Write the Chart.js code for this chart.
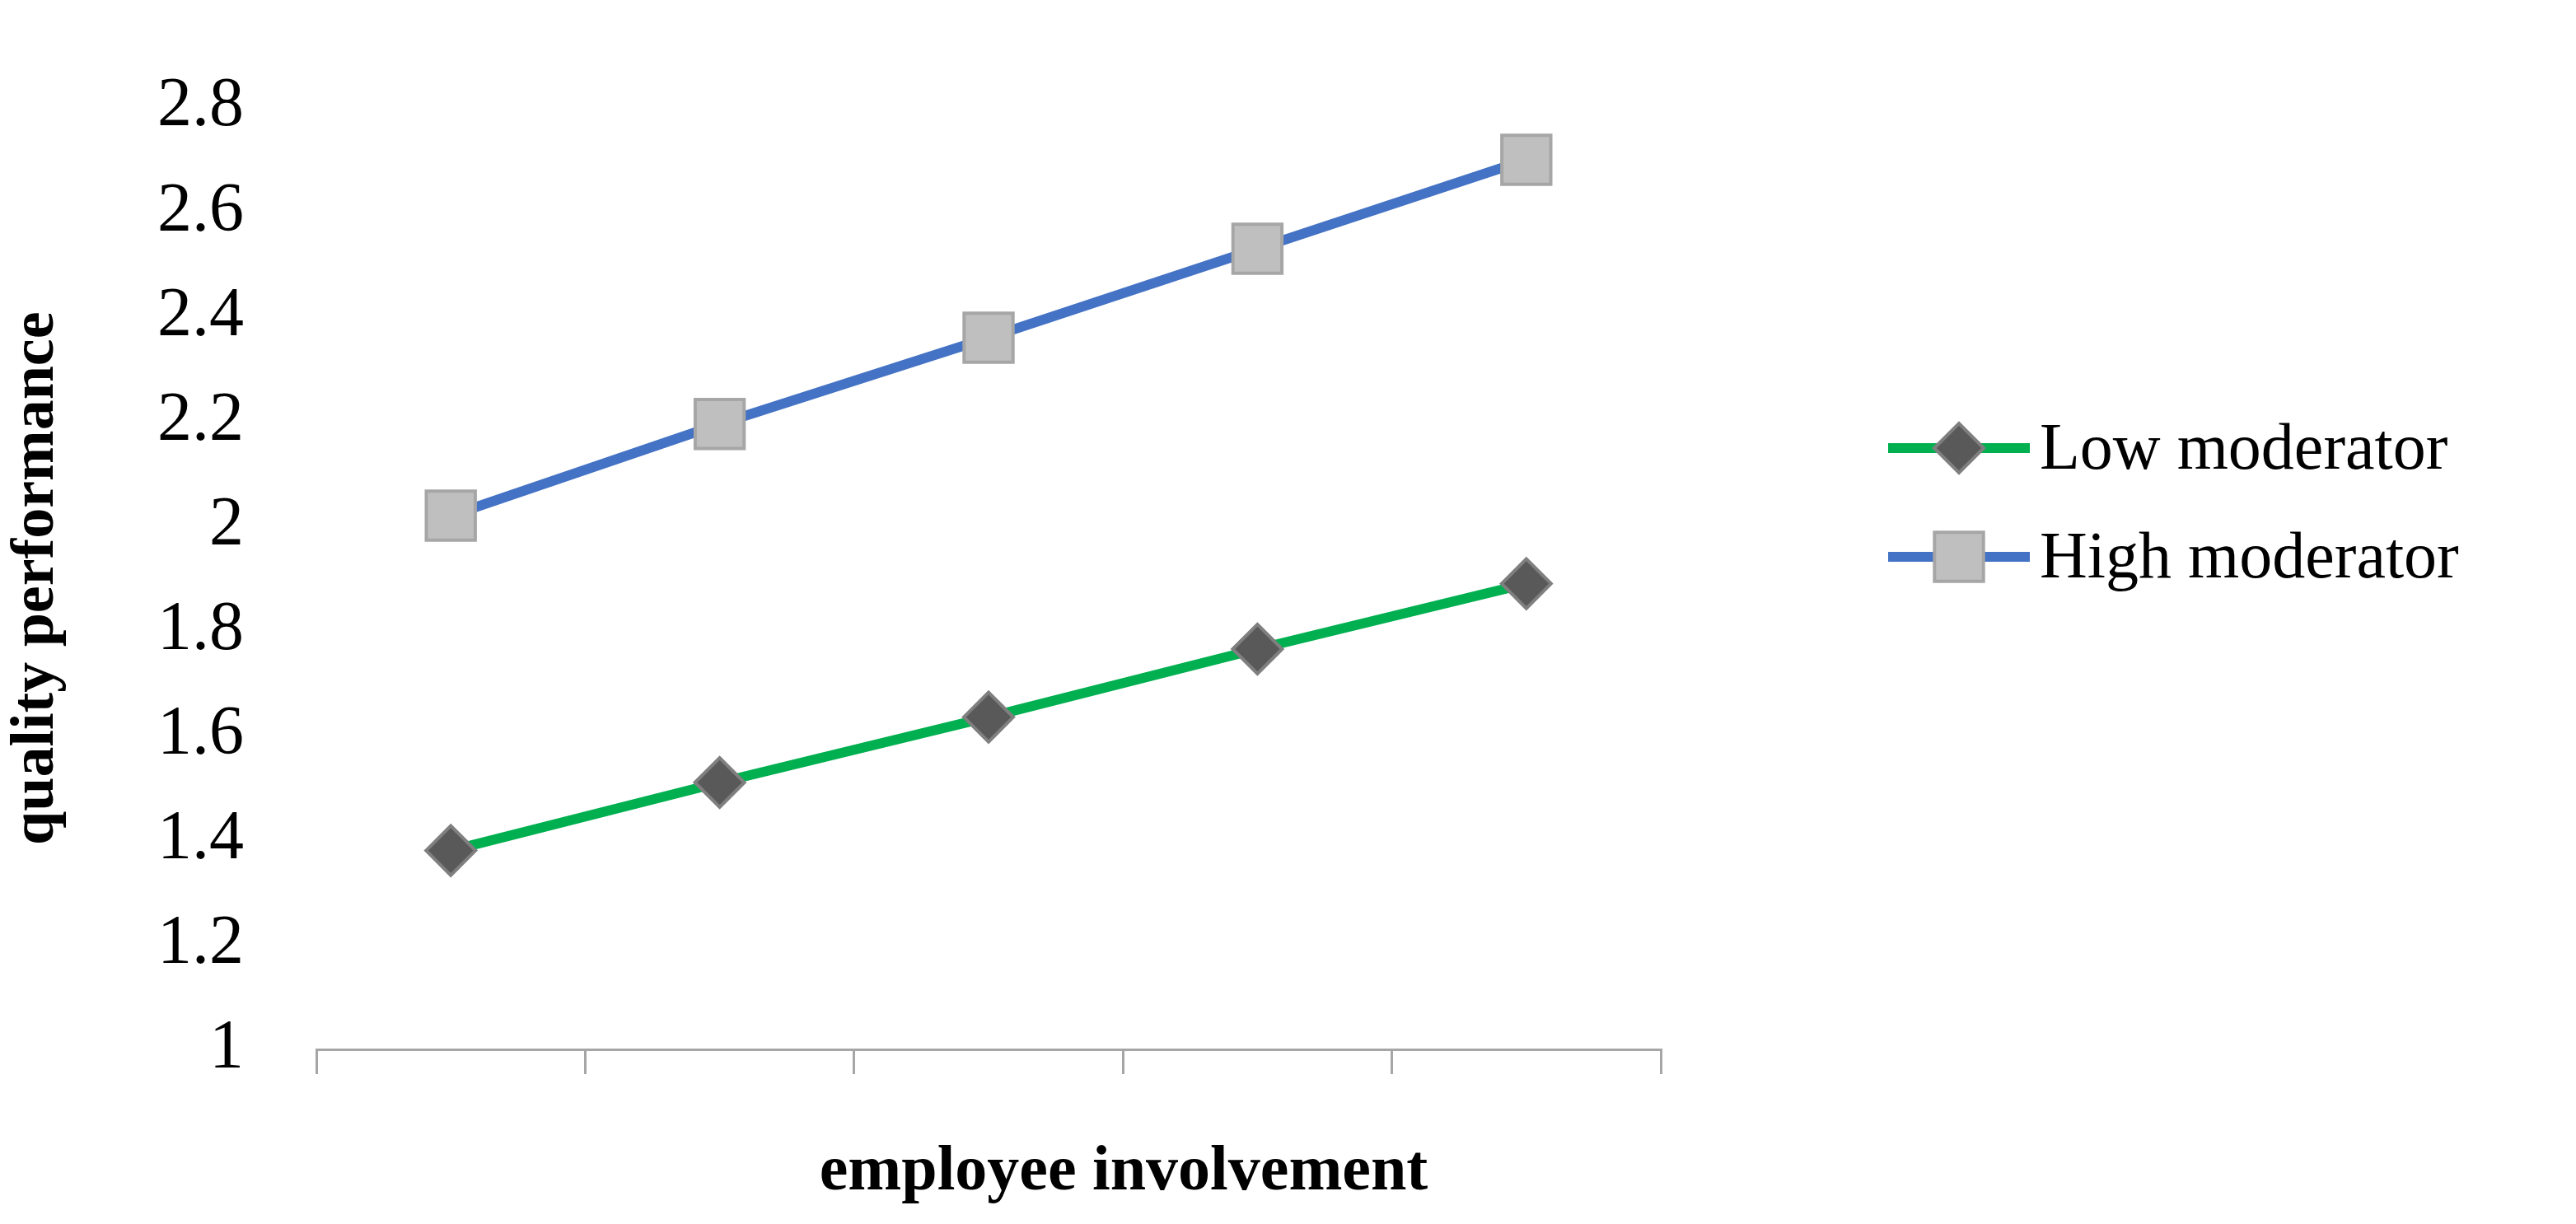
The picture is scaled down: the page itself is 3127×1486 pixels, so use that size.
<!DOCTYPE html>
<html>
<head>
<meta charset="utf-8">
<script src="https://cdn.jsdelivr.net/npm/chart.js@4"></script>
<style>
  html, body { margin: 0; padding: 0; background: #fff; overflow: hidden; }
</style>
</head>
<body>
<canvas id="chart" width="3127" height="1486"></canvas>
<script>
const categories = ["1", "2", "3", "4", "5"];
const lowModerator = [1.38, 1.51, 1.635, 1.765, 1.89];
const highModerator = [2.02, 2.195, 2.36, 2.53, 2.70];
const seriesNames = ["Low moderator", "High moderator"];
const xTitle = "employee involvement";
const yTitle = "quality performance";

const FONT = "'Liberation Serif', 'Times New Roman', serif";

// legend drawn on the right: line with marker + label
const sideLegend = {
    id: "sideLegend",
    afterDraw(chart) {
        const ctx = chart.ctx;
        const rows = [544, 676];
        chart.data.datasets.forEach((ds, i) => {
            const y = rows[i];
            ctx.save();
            ctx.strokeStyle = ds.borderColor;
            ctx.lineWidth = 12;
            ctx.beginPath();
            ctx.moveTo(2292, y);
            ctx.lineTo(2464, y);
            ctx.stroke();
            ctx.fillStyle = ds.pointBackgroundColor;
            ctx.strokeStyle = ds.pointBorderColor;
            ctx.lineWidth = ds.pointBorderWidth;
            Chart.helpers.drawPoint(ctx, {
                pointStyle: ds.pointStyle,
                radius: ds.pointRadius,
                borderWidth: ds.pointBorderWidth,
            }, 2378, y);
            ctx.fillStyle = "#000";
            ctx.font = "80px " + FONT;
            ctx.textBaseline = "middle";
            ctx.fillText(ds.label, 2476, y + 4);
            ctx.restore();
        });
        // x axis title
        ctx.save();
        ctx.fillStyle = "#000";
        ctx.font = "bold 78px " + FONT;
        ctx.textAlign = "center";
        ctx.textBaseline = "middle";
        ctx.fillText(xTitle, 1364, 1424);
        ctx.restore();
    },
};

new Chart(document.getElementById("chart"), {
    type: "line",
    data: {
        labels: categories,
        datasets: [
            {
                label: seriesNames[0],
                data: lowModerator,
                borderColor: "#00B050",
                borderWidth: 12,
                pointStyle: "rectRot",
                pointRadius: 30,
                pointBackgroundColor: "#595959",
                pointBorderColor: "#7F7F7F",
                pointBorderWidth: 4,
                tension: 0,
            },
            {
                label: seriesNames[1],
                data: highModerator,
                borderColor: "#4472C4",
                borderWidth: 12,
                pointStyle: "rect",
                pointRadius: 42,
                pointBackgroundColor: "#BFBFBF",
                pointBorderColor: "#A6A6A6",
                pointBorderWidth: 4,
                tension: 0,
            },
        ],
    },
    options: {
        responsive: false,
        animation: false,
        devicePixelRatio: 1,
        layout: { padding: { top: 52, right: 1111, left: 0, bottom: 0 } },
        plugins: { legend: { display: false }, tooltip: { enabled: false } },
        scales: {
            x: {
                offset: true,
                grid: {
                    offset: true,
                    drawOnChartArea: false,
                    tickLength: 30,
                    color: "#A6A6A6",
                    lineWidth: 3,
                },
                border: { color: "#A6A6A6", width: 3 },
                ticks: { display: false },
                afterFit: (scale) => { scale.height = 212; },
            },
            y: {
                min: 1,
                max: 2.8,
                grid: { display: false },
                border: { display: false },
                ticks: {
                    stepSize: 0.2,
                    padding: 80,
                    color: "#000",
                    font: { family: FONT, size: 84 },
                    callback: (v) => Math.round(v * 10) / 10,
                },
                title: {
                    display: true,
                    text: yTitle,
                    color: "#000",
                    font: { family: FONT, size: 74, weight: "bold" },
                    padding: { top: 0, bottom: 0 },
                },
                afterFit: (scale) => { scale.width = 384; },
            },
        },
    },
    plugins: [sideLegend],
});
</script>
</body>
</html>
